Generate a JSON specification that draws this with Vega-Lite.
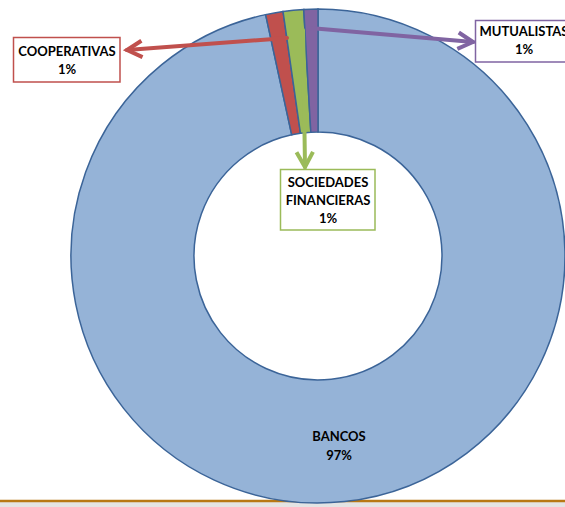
{
  "$schema": "https://vega.github.io/schema/vega-lite/v6.json",
  "width": 494,
  "height": 494,
  "autosize": {"type": "none"},
  "padding": {"left": 71, "top": 9, "right": 0, "bottom": 4},
  "background": "white",
  "config": {"view": {"stroke": null}},
  "datasets": {
    "sectores": [
      {"sector": "BANCOS", "valor": 96.6, "orden": 1},
      {"sector": "COOPERATIVAS", "valor": 1.14, "orden": 2},
      {"sector": "SOCIEDADES FINANCIERAS", "valor": 1.34, "orden": 3},
      {"sector": "MUTUALISTAS", "valor": 0.92, "orden": 4}
    ],
    "flechas": [
      {"sector": "COOPERATIVAS", "x": 287, "y": 38, "x2": 127, "y2": 50},
      {"sector": "SOCIEDADES FINANCIERAS", "x": 303, "y": 30, "x2": 305, "y2": 167},
      {"sector": "MUTUALISTAS", "x": 310, "y": 28, "x2": 473, "y2": 42}
    ],
    "cajas": [
      {"sector": "COOPERATIVAS", "x": 13.5, "x2": 120, "y": 37.5, "y2": 82},
      {"sector": "MUTUALISTAS", "x": 475.5, "x2": 620, "y": 20.5, "y2": 62},
      {"sector": "SOCIEDADES FINANCIERAS", "x": 280.5, "x2": 375, "y": 169.5, "y2": 230}
    ],
    "textos": [
      {"texto": "COOPERATIVAS", "x": 67, "y": 52},
      {"texto": "1%", "x": 67, "y": 70},
      {"texto": "MUTUALISTAS", "x": 524, "y": 32},
      {"texto": "1%", "x": 524, "y": 50},
      {"texto": "SOCIEDADES", "x": 328, "y": 183},
      {"texto": "FINANCIERAS", "x": 328, "y": 201},
      {"texto": "1%", "x": 328, "y": 219},
      {"texto": "BANCOS", "x": 339, "y": 437},
      {"texto": "97%", "x": 339, "y": 456}
    ],
    "pie": [
      {"x": 0, "x2": 565, "y": 501, "y2": 510}
    ]
  },
  "layer": [
    {
      "data": {"name": "pie"},
      "mark": {"type": "rect", "fill": "#e4e4e4"},
      "encoding": {
        "x": {"field": "x", "type": "quantitative", "scale": {"domain": [71, 565], "nice": false, "zero": false}, "axis": null},
        "x2": {"field": "x2"},
        "y": {"field": "y", "type": "quantitative", "scale": {"domain": [9, 503], "nice": false, "zero": false, "reverse": true}, "axis": null},
        "y2": {"field": "y2"}
      }
    },
    {
      "data": {"name": "pie"},
      "mark": {"type": "rule", "stroke": "#b87814", "strokeWidth": 2.5},
      "encoding": {
        "x": {"field": "x", "type": "quantitative", "axis": null},
        "x2": {"field": "x2"},
        "y": {"field": "y", "type": "quantitative", "axis": null}
      }
    },
    {
      "data": {"name": "sectores"},
      "mark": {"type": "arc", "radius": 247, "radius2": 124, "stroke": "#3b6498", "strokeWidth": 1.5},
      "encoding": {
        "theta": {"field": "valor", "type": "quantitative", "stack": true},
        "order": {"field": "orden", "type": "quantitative"},
        "color": {
          "field": "sector", "type": "nominal", "legend": null,
          "scale": {
            "domain": ["BANCOS", "COOPERATIVAS", "SOCIEDADES FINANCIERAS", "MUTUALISTAS"],
            "range": ["#95b3d7", "#c0504d", "#9bbb59", "#8064a2"]
          }
        }
      }
    },
    {
      "data": {"name": "flechas"},
      "mark": {"type": "rule", "strokeWidth": 4, "strokeCap": "round"},
      "encoding": {
        "x": {"field": "x", "type": "quantitative", "axis": null},
        "y": {"field": "y", "type": "quantitative", "axis": null},
        "x2": {"field": "x2"},
        "y2": {"field": "y2"},
        "color": {"field": "sector", "type": "nominal", "legend": null}
      }
    },
    {
      "data": {"name": "flechas"},
      "transform": [{"filter": "datum.sector == 'COOPERATIVAS'"}],
      "mark": {"type": "point", "shape": "M -1 -0.55 L 0 0 L -1 0.55", "size": 900, "filled": false, "strokeWidth": 4, "opacity": 1, "angle": 176, "strokeJoin": "miter"},
      "encoding": {
        "x": {"field": "x2", "type": "quantitative", "axis": null},
        "y": {"field": "y2", "type": "quantitative", "axis": null},
        "color": {"field": "sector", "type": "nominal", "legend": null}
      }
    },
    {
      "data": {"name": "flechas"},
      "transform": [{"filter": "datum.sector == 'SOCIEDADES FINANCIERAS'"}],
      "mark": {"type": "point", "shape": "M -1 -0.55 L 0 0 L -1 0.55", "size": 900, "filled": false, "strokeWidth": 4, "opacity": 1, "angle": 89, "strokeJoin": "miter"},
      "encoding": {
        "x": {"field": "x2", "type": "quantitative", "axis": null},
        "y": {"field": "y2", "type": "quantitative", "axis": null},
        "color": {"field": "sector", "type": "nominal", "legend": null}
      }
    },
    {
      "data": {"name": "flechas"},
      "transform": [{"filter": "datum.sector == 'MUTUALISTAS'"}],
      "mark": {"type": "point", "shape": "M -1 -0.55 L 0 0 L -1 0.55", "size": 900, "filled": false, "strokeWidth": 4, "opacity": 1, "angle": 5, "strokeJoin": "miter"},
      "encoding": {
        "x": {"field": "x2", "type": "quantitative", "axis": null},
        "y": {"field": "y2", "type": "quantitative", "axis": null},
        "color": {"field": "sector", "type": "nominal", "legend": null}
      }
    },
    {
      "data": {"name": "cajas"},
      "mark": {"type": "rect", "fill": "white", "strokeWidth": 1.5},
      "encoding": {
        "x": {"field": "x", "type": "quantitative", "axis": null},
        "x2": {"field": "x2"},
        "y": {"field": "y", "type": "quantitative", "axis": null},
        "y2": {"field": "y2"},
        "stroke": {
          "field": "sector", "type": "nominal", "legend": null,
          "scale": {
            "domain": ["BANCOS", "COOPERATIVAS", "SOCIEDADES FINANCIERAS", "MUTUALISTAS"],
            "range": ["#95b3d7", "#c0504d", "#9bbb59", "#8064a2"]
          }
        }
      }
    },
    {
      "data": {"name": "textos"},
      "mark": {"type": "text", "font": "Lato", "fontWeight": "bold", "fontSize": 13, "color": "#000000", "align": "center", "baseline": "middle"},
      "encoding": {
        "x": {"field": "x", "type": "quantitative", "axis": null},
        "y": {"field": "y", "type": "quantitative", "axis": null},
        "text": {"field": "texto", "type": "nominal"}
      }
    }
  ]
}
